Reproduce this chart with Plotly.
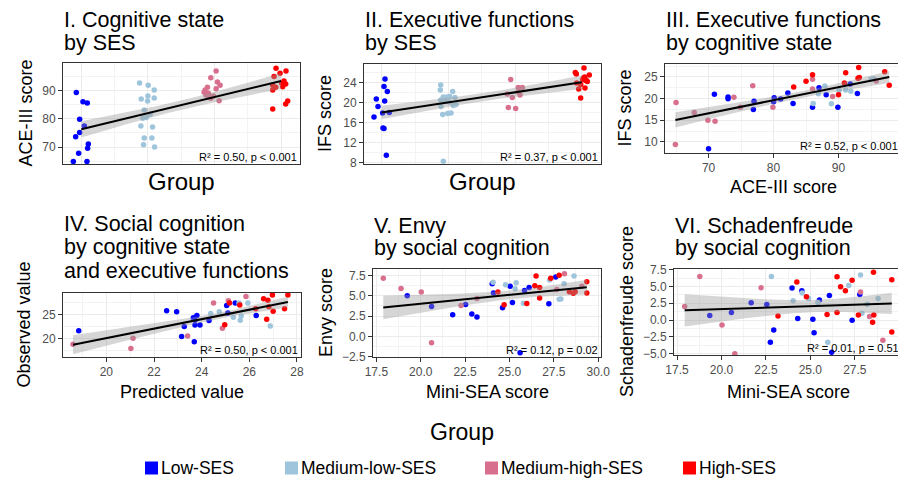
import numpy as np
import plotly.graph_objects as go

W, H = 898, 481
FONT = "Liberation Sans, Arial, sans-serif"

GROUPS = ["Low-SES", "Medium-low-SES", "Medium-high-SES", "High-SES"]
COLORS = ["#0000FF", "#9FC5DC", "#D8708D", "#FF0000"]

# ---------------- Panel I: ACE-III score by group (jittered group position) ----------------
p1_x_low = [0.925, 1.025, 1.09, 0.975, 1.045, 0.975, 0.915, 1.105, 1.095, 0.96, 0.88, 1.085]
p1_y_low = [89.3, 86.1, 85.6, 79.9, 77.5, 75.2, 73.7, 71.1, 69.6, 67.8, 64.9, 64.9]
p1_x_mlow = [1.875, 2.005, 2.095, 2.0, 1.9, 1.995, 2.095, 1.945, 2.035, 1.975, 1.925, 1.895, 2.07, 1.945, 2.06, 1.935, 2.1]
p1_y_mlow = [92.7, 91.9, 90.2, 88.1, 87.0, 86.3, 87.4, 83.1, 81.6, 80.5, 80.2, 77.5, 77.1, 73.2, 73.2, 70.8, 70.0]
p1_x_mhigh = [3.025, 2.945, 3.045, 3.085, 2.895, 2.86, 3.025, 2.845, 2.875, 2.92, 2.985, 2.945, 3.07, 2.91]
p1_y_mhigh = [97.0, 94.6, 93.1, 91.9, 91.2, 90.2, 90.7, 89.4, 88.5, 87.9, 88.1, 87.3, 86.4, 89.1]
p1_x_high = [3.925, 3.985, 4.075, 3.895, 4.045, 4.01, 4.07, 3.875, 3.92, 4.025, 3.875, 4.1, 4.07, 3.875]
p1_y_high = [97.9, 96.2, 97.0, 95.0, 93.4, 92.6, 92.4, 91.9, 91.2, 91.4, 90.2, 86.3, 85.3, 83.5]

# ---------------- Panel II: IFS score by group ----------------
p2_x_low = [1.05, 1.035, 1.085, 0.92, 1.045, 0.945, 1.015, 1.115, 0.885, 1.035, 1.02, 1.07]
p2_y_low = [24.7, 23.2, 22.2, 20.7, 20.3, 19.2, 17.9, 18.0, 17.1, 14.8, 14.9, 9.5]
p2_x_mlow = [1.885, 1.88, 2.065, 2.02, 1.925, 1.98, 2.1, 1.885, 1.95, 2.015, 2.075, 2.115, 1.89, 2.04, 1.99, 1.915, 1.925]
p2_y_mlow = [23.5, 22.5, 22.2, 21.2, 21.1, 21.1, 21.0, 20.5, 20.2, 20.1, 19.4, 19.6, 19.2, 17.9, 17.8, 17.6, 8.3]
p2_x_mhigh = [2.935, 3.05, 3.11, 2.885, 3.075, 2.96, 2.9, 3.01, 3.05]
p2_y_mhigh = [24.6, 23.0, 23.0, 21.7, 21.5, 21.0, 19.0, 18.8, 22.1]
p2_x_high = [4.035, 3.905, 3.92, 4.115, 4.045, 4.065, 4.015, 4.085, 3.925, 3.985, 4.05, 3.955, 3.985, 4.03, 4.06]
p2_y_high = [26.9, 26.0, 25.7, 25.5, 25.1, 24.5, 24.6, 24.2, 23.9, 23.6, 22.9, 22.7, 20.9, 24.9, 24.4]

# ---------------- Panel III: IFS vs ACE-III ----------------
p3_x_low = [70.9, 73.0, 73.0, 77.0, 76.9, 80.1, 80.0, 81.1, 82.2, 83.0, 86.0, 87.0, 88.1, 89.9, 91.8, 92.9, 70.0]
p3_y_low = [21.0, 20.4, 20.0, 19.4, 17.5, 20.2, 19.3, 19.9, 21.3, 18.9, 18.0, 22.5, 20.9, 18.0, 23.4, 21.2, 8.4]
p3_x_mlow = [86.9, 87.9, 86.1, 88.9, 90.1, 91.1, 91.9, 95.0, 95.4]
p3_y_mlow = [21.1, 22.9, 18.9, 18.8, 21.9, 22.0, 21.7, 24.5, 24.6]
p3_x_mhigh = [65.0, 64.9, 67.8, 69.9, 71.0, 73.9, 74.9, 76.8, 79.9, 86.0, 86.0, 89.1, 95.8]
p3_y_mhigh = [19.1, 9.4, 16.8, 15.0, 14.8, 20.3, 18.0, 23.0, 18.0, 22.2, 24.5, 20.5, 24.1]
p3_x_high = [83.1, 85.0, 86.0, 90.0, 90.9, 91.1, 93.0, 93.2, 93.1, 97.1, 97.8]
p3_y_high = [22.7, 24.0, 25.5, 20.9, 23.6, 26.0, 24.7, 24.9, 27.2, 26.2, 23.1]

# ---------------- Panel IV: observed vs predicted social cognition ----------------
p4_x_low = [18.84, 22.53, 22.95, 23.27, 23.16, 23.69, 23.65, 23.72, 23.8, 23.72, 23.93, 24.31, 25.05, 25.1, 25.41, 26.29]
p4_y_low = [21.6, 25.8, 25.6, 22.5, 20.4, 19.3, 24.3, 23.8, 24.8, 22.8, 22.8, 23.75, 26.9, 25.3, 27.4, 24.8]
p4_x_mlow = [24.38, 24.74, 25.33, 25.57, 25.62, 25.66, 25.94, 26.88]
p4_y_mlow = [25.2, 25.6, 24.4, 27.4, 23.8, 24.7, 27.4, 22.6]
p4_x_mhigh = [18.6, 21.12, 21.03, 23.41, 24.5, 24.87, 25.12, 25.86]
p4_y_mhigh = [18.75, 20.0, 17.9, 20.5, 27.4, 22.1, 27.9, 28.75]
p4_x_high = [24.97, 25.17, 25.6, 26.6, 26.97, 26.78, 26.82, 27.0, 26.73, 27.48, 27.62, 26.27]
p4_y_high = [22.85, 27.4, 27.0, 28.3, 29.1, 28.0, 26.6, 25.7, 24.0, 26.2, 29.1, 26.2]

# ---------------- Panel V: Envy vs Mini-SEA ----------------
p5_x_low = [19.24, 20.61, 21.8, 22.53, 22.88, 23.17, 24.03, 24.1, 24.61, 25.04, 25.17, 25.85, 26.11, 27.22, 27.61, 25.6]
p5_y_low = [5.0, 3.68, 2.68, 3.93, 2.76, 2.4, 6.46, 5.33, 3.52, 6.17, 4.17, 5.65, 6.0, 4.0, 7.3, -2.0]
p5_x_mlow = [24.08, 24.78, 25.38, 25.32, 25.79, 27.26, 27.8, 27.9, 28.08, 28.64]
p5_y_mlow = [6.66, 6.34, 6.58, 5.85, 4.09, 6.94, 4.57, 4.6, 6.46, 7.42]
p5_x_mhigh = [17.89, 18.89, 20.03, 20.61, 22.27, 23.17, 27.67, 28.1, 29.08]
p5_y_mhigh = [7.14, 5.9, 5.45, -0.77, 3.8, 4.65, 5.77, 7.7, 6.17]
p5_x_high = [24.35, 24.7, 25.98, 26.43, 26.5, 26.7, 26.7, 27.33, 27.8, 28.38, 28.6, 28.7, 29.36, 29.36]
p5_y_high = [5.45, 3.89, 4.05, 6.21, 7.42, 6.01, 4.73, 7.14, 7.5, 5.49, 5.29, 5.49, 6.7, 5.33]

# ---------------- Panel VI: Schadenfreude vs Mini-SEA ----------------
p6_x_low = [19.34, 20.56, 21.67, 22.55, 22.75, 22.94, 23.97, 24.29, 24.52, 25.14, 25.21, 25.51, 26.07, 26.2, 27.35, 27.78]
p6_y_low = [0.67, 1.12, 2.57, 2.32, -3.31, -1.47, 4.76, 0.23, 4.36, 0.13, -1.87, 2.97, 3.66, -4.8, -0.02, 3.81]
p6_x_mlow = [22.81, 24.03, 24.54, 24.9, 25.42, 25.98, 27.16, 27.82, 27.9, 28.2, 28.81]
p6_y_mlow = [6.5, 2.87, 4.01, 3.22, 2.62, -3.31, 5.16, 6.7, 1.02, 2.37, 3.21]
p6_x_mhigh = [17.93, 18.78, 20.03, 20.75, 22.23, 27.82, 28.33, 29.08]
p6_y_mhigh = [2.02, 6.5, -0.72, -5.0, 4.8, 4.16, 0.52, -3.0]
p6_x_high = [23.18, 24.24, 24.78, 25.94, 26.5, 26.5, 26.7, 26.97, 27.35, 27.7, 28.55, 28.57, 28.5, 29.58, 29.58]
p6_y_high = [0.62, 5.66, 3.46, 0.82, 6.45, 1.12, 4.96, 4.36, 5.91, 0.77, 7.1, 0.77, -0.32, 6.0, -1.77]

# ---------------- Text ----------------
panel_titles = [
    ["I. Cognitive state", "by SES"],
    ["II. Executive functions", "by SES"],
    ["III. Executive functions", "by cognitive state"],
    ["IV. Social cognition", "by cognitive state", "and executive functions"],
    ["V. Envy", "by social cognition"],
    ["VI. Schadenfreude", "by social cognition"],
]
y_titles = ["ACE-III score", "IFS score", "IFS score", "Observed value", "Envy score", "Schadenfreude score"]
x_titles = ["Group", "Group", "ACE-III score", "Predicted value", "Mini-SEA score", "Mini-SEA score"]
stat_labels = ["R² = 0.50, p < 0.001", "R² = 0.37, p < 0.001", "R² = 0.52, p < 0.001",
               "R² = 0.50, p < 0.001", "R² = 0.12, p = 0.02", "R² = 0.01, p = 0.51"]
legend_title = "Group"


def fit_band(x, y, xmin, xmax, n=100, t=2.01):
    x = np.asarray(x, float)
    y = np.asarray(y, float)
    b, a = np.polyfit(x, y, 1)
    resid = y - (a + b * x)
    s = np.sqrt(np.sum(resid ** 2) / (len(x) - 2))
    xbar = x.mean()
    sxx = np.sum((x - xbar) ** 2)
    xs = np.linspace(xmin, xmax, n)
    yh = a + b * xs
    se = s * np.sqrt(1.0 / len(x) + (xs - xbar) ** 2 / sxx)
    return xs, yh, yh - t * se, yh + t * se


def group_index(lists):
    out = []
    for gi, lst in enumerate(lists):
        out += [gi + 1] * len(lst)
    return out


panels = [
    dict(pts=[(p1_x_low, p1_y_low), (p1_x_mlow, p1_y_mlow), (p1_x_mhigh, p1_y_mhigh), (p1_x_high, p1_y_high)],
         fitx=group_index([p1_y_low, p1_y_mlow, p1_y_mhigh, p1_y_high]),
         box=(63, 300, 63, 164), xr=[0.725, 4.285], yr=[64.0, 99.8], cat=True,
         ydtick=10, yminor=5, xdtick=None, xminor=None, fmt=None,
         title_y=[20, 43], ytitle_x=25, xtitle_y=181.5, xtitle_size=24),
    dict(pts=[(p2_x_low, p2_y_low), (p2_x_mlow, p2_y_mlow), (p2_x_mhigh, p2_y_mhigh), (p2_x_high, p2_y_high)],
         fitx=group_index([p2_y_low, p2_y_mlow, p2_y_mhigh, p2_y_high]),
         box=(364, 601, 64, 164), xr=[0.735, 4.29], yr=[7.73, 27.7], cat=True,
         ydtick=4, yminor=2, xdtick=None, xminor=None, fmt=None,
         title_y=[20.5, 43.3], ytitle_x=325, xtitle_y=181.5, xtitle_size=24),
    dict(pts=[(p3_x_low, p3_y_low), (p3_x_mlow, p3_y_mlow), (p3_x_mhigh, p3_y_mhigh), (p3_x_high, p3_y_high)],
         fitx=None,
         box=(665, 898, 64, 153), xr=[63.3, 99.15], yr=[7.44, 28.0], cat=False,
         ydtick=5, yminor=2.5, xdtick=10, xminor=5, fmt=None, right_edge=901,
         title_y=[20, 42.7], ytitle_x=625, xtitle_y=186.5, xtitle_size=18),
    dict(pts=[(p4_x_low, p4_y_low), (p4_x_mlow, p4_y_mlow), (p4_x_mhigh, p4_y_mhigh), (p4_x_high, p4_y_high)],
         fitx=None,
         box=(63, 301, 293, 357), xr=[18.18, 28.17], yr=[16.1, 29.5], cat=False,
         ydtick=5, yminor=2.5, xdtick=2, xminor=1, fmt=None,
         title_y=[224, 247.5, 270.5], ytitle_x=23.5, xtitle_y=391.5, xtitle_size=18),
    dict(pts=[(p5_x_low, p5_y_low), (p5_x_mlow, p5_y_mlow), (p5_x_mhigh, p5_y_mhigh), (p5_x_high, p5_y_high)],
         fitx=None,
         box=(373, 601, 269, 357), xr=[17.31, 30.16], yr=[-2.52, 8.28], cat=False,
         ydtick=2.5, yminor=1.25, xdtick=2.5, xminor=1.25, fmt=".1f",
         title_y=[226, 248], ytitle_x=326, xtitle_y=392, xtitle_size=18),
    dict(pts=[(p6_x_low, p6_y_low), (p6_x_mlow, p6_y_mlow), (p6_x_mhigh, p6_y_mhigh), (p6_x_high, p6_y_high)],
         fitx=None,
         box=(674, 898, 269, 355), xr=[17.33, 29.93], yr=[-5.2, 7.6], cat=False,
         ydtick=2.5, yminor=1.25, xdtick=2.5, xminor=1.25, fmt=".1f", right_edge=902,
         title_y=[226, 248], ytitle_x=627, xtitle_y=392, xtitle_size=18),
]


def ann(text, xp, yp, size, color="black", xanchor="center", yanchor="middle", angle=0):
    return dict(text=text, x=xp / W, y=1 - yp / H, xref="paper", yref="paper", showarrow=False,
                xanchor=xanchor, yanchor=yanchor, textangle=angle,
                font=dict(family=FONT, size=size, color=color))


fig = go.Figure()
annotations = []
shapes = []
layout_axes = {}

for i, p in enumerate(panels):
    k = "" if i == 0 else str(i + 1)
    xa, ya = "x" + k, "y" + k
    x0, x1, y0, y1 = p["box"]

    # points
    for gi, (xs, ys) in enumerate(p["pts"]):
        fig.add_trace(go.Scatter(x=xs, y=ys, mode="markers", xaxis=xa, yaxis=ya,
                                 marker=dict(size=5.5, color=COLORS[gi], line=dict(width=0)),
                                 showlegend=False, name=GROUPS[gi], cliponaxis=True))

    # regression + 95% band
    all_y = sum([list(v[1]) for v in p["pts"]], [])
    if p["fitx"] is not None:
        fx = p["fitx"]
    else:
        fx = sum([list(v[0]) for v in p["pts"]], [])
    xs, yh, lo, hi = fit_band(fx, all_y, min(fx), max(fx))
    fig.add_trace(go.Scatter(x=np.concatenate([xs, xs[::-1]]), y=np.concatenate([hi, lo[::-1]]),
                             fill="toself", fillcolor="rgba(153,153,153,0.4)", line=dict(width=0),
                             mode="lines", xaxis=xa, yaxis=ya, showlegend=False, hoverinfo="skip"))
    fig.add_trace(go.Scatter(x=xs, y=yh, mode="lines", line=dict(color="black", width=2),
                             xaxis=xa, yaxis=ya, showlegend=False, hoverinfo="skip"))

    common = dict(showline=True, mirror=True, linecolor="#333333", linewidth=1,
                  showgrid=True, gridcolor="#EBEBEB", gridwidth=1.4, zeroline=False,
                  automargin=False,
                  ticks="outside", ticklen=4, tickcolor="#333333", tickwidth=1,
                  tickfont=dict(size=12, color="#4D4D4D", family=FONT))
    xdict = dict(common, domain=[x0 / W, x1 / W], range=p["xr"], anchor=ya)
    if p["cat"]:
        xdict.update(tickmode="array", tickvals=[1, 2, 3, 4], showticklabels=False, ticks="",
                     minor=dict(tickmode="array", tickvals=[1.5, 2.5, 3.5], showgrid=True,
                                gridcolor="#F3F3F3", gridwidth=0.8))
    else:
        xdict.update(dtick=p["xdtick"], tick0=0,
                     minor=dict(dtick=p["xminor"], tick0=0, showgrid=True, gridcolor="#F3F3F3", gridwidth=0.8))
        if p["fmt"]:
            xdict["tickformat"] = p["fmt"]
    ydict = dict(common, domain=[1 - y1 / H, 1 - y0 / H], range=p["yr"], anchor=xa,
                 dtick=p["ydtick"], tick0=0,
                 minor=dict(dtick=p["yminor"], tick0=0, showgrid=True, gridcolor="#F3F3F3", gridwidth=0.8))
    if p["fmt"]:
        ydict["tickformat"] = p["fmt"]
    layout_axes["xaxis" + k] = xdict
    layout_axes["yaxis" + k] = ydict

    # titles
    for line, ty in zip(panel_titles[i], p["title_y"]):
        annotations.append(ann(line, x0 - 1, ty, 21.5, xanchor="left"))
    annotations.append(ann(y_titles[i], p["ytitle_x"], (y0 + y1) / 2, 18, angle=-90))
    right = p.get("right_edge", x1)
    annotations.append(ann(x_titles[i], (x0 + right) / 2, p["xtitle_y"], p["xtitle_size"]))
    annotations.append(ann(stat_labels[i], right - 1, y1 + 1, 11, xanchor="right", yanchor="bottom"))

# legend (drawn manually to match the layout of the original)
annotations.append(ann(legend_title, 462, 432, 23))
sq_left = [145, 285, 485, 683]
for gi, g in enumerate(GROUPS):
    shapes.append(dict(type="rect", xref="paper", yref="paper",
                       x0=sq_left[gi] / W, x1=(sq_left[gi] + 13) / W,
                       y0=1 - 474.5 / H, y1=1 - 461.5 / H,
                       fillcolor=COLORS[gi], line=dict(width=0)))
    annotations.append(ann(g, sq_left[gi] + 14, 468, 17.5, xanchor="left"))

fig.update_layout(width=W, height=H, margin=dict(l=0, r=0, t=0, b=0, autoexpand=False),
                  paper_bgcolor="white", plot_bgcolor="white",
                  font=dict(family=FONT), annotations=annotations, shapes=shapes,
                  showlegend=False, **layout_axes)

fig.write_html("out.html", config={"displayModeBar": False},
               post_script="document.body.style.margin='0px';document.body.style.overflow='hidden';")
